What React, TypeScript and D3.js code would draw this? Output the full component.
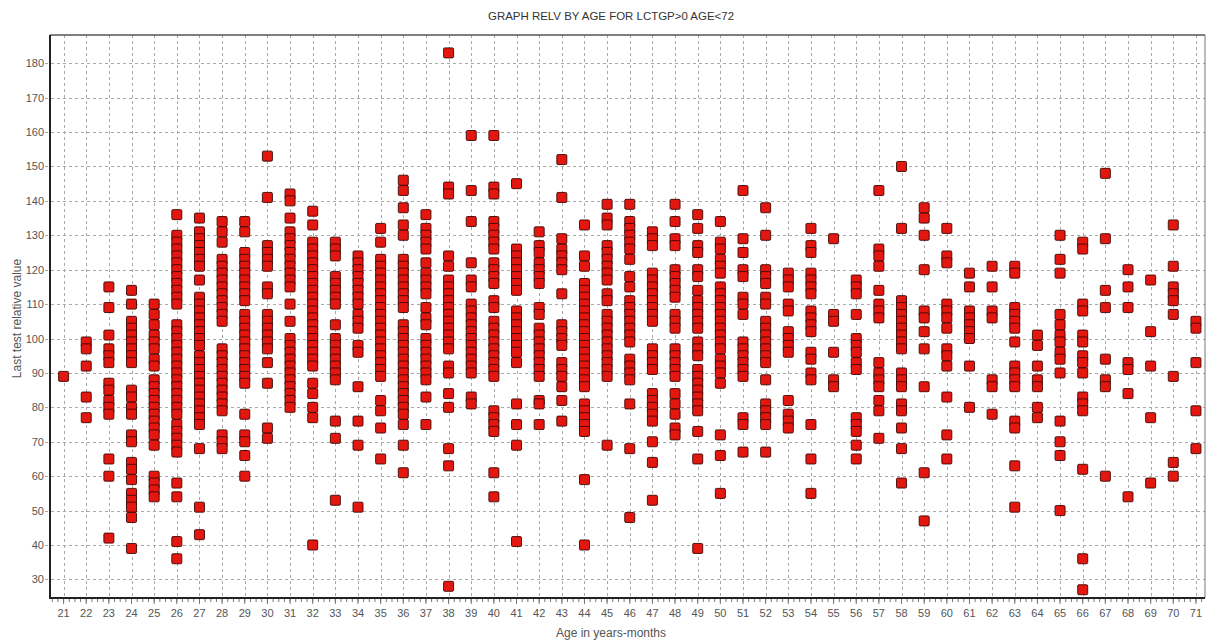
import React from 'react';
import * as d3 from 'd3';

const W = 1220;
const H = 642;

const title = 'GRAPH RELV BY AGE FOR LCTGP>0 AGE<72';
const xLabel = 'Age in years-months';
const yLabel = 'Last test relative value';
const ageTicks = d3.range(21, 72);
const valueTicks = d3.range(30, 190, 10);

const relv21 = [89];
const relv22 = [99, 97, 92, 83, 77];
const relv23 = [115, 109, 101, 97, 95, 93, 87, 85, 82, 80, 78, 65, 60, 42];
const relv24 = [114, 110, 105, 103, 101, 99, 97, 95, 93, 85, 83, 80, 78, 72, 70, 64, 62, 59, 55, 53, 51, 48, 39];
const relv25 = [110, 107, 104, 101, 99, 97, 94, 92, 88, 86, 84, 82, 80, 78, 76, 74, 72, 69, 60, 58, 56, 54];
const relv26 = [136, 130, 128, 126, 124, 122, 120, 118, 116, 114, 112, 110, 104, 102, 100, 98, 96, 94, 92, 90, 88, 86, 84, 82, 80, 78, 75, 73, 71, 69, 67, 58, 54, 41, 36];
const relv27 = [135, 131, 129, 127, 125, 123, 121, 117, 112, 110, 108, 106, 104, 102, 100, 98, 95, 93, 91, 89, 87, 85, 83, 81, 79, 77, 75, 68, 51, 43];
const relv28 = [134, 131, 128, 123, 121, 119, 117, 115, 113, 111, 109, 107, 105, 97, 95, 93, 91, 89, 87, 85, 83, 81, 79, 72, 70, 68];
const relv29 = [134, 131, 125, 123, 121, 119, 117, 115, 113, 111, 107, 105, 103, 101, 99, 97, 95, 93, 91, 89, 87, 78, 72, 70, 66, 60];
const relv30 = [153, 141, 127, 125, 123, 121, 115, 113, 107, 105, 103, 101, 99, 97, 93, 87, 74, 71];
const relv31 = [142, 140, 135, 131, 129, 127, 125, 123, 121, 119, 117, 115, 110, 105, 100, 98, 96, 94, 92, 90, 88, 86, 84, 82, 80];
const relv32 = [137, 133, 128, 126, 124, 122, 120, 118, 116, 114, 112, 110, 108, 106, 104, 102, 100, 98, 96, 94, 92, 87, 84, 80, 77, 40];
const relv33 = [128, 126, 124, 118, 116, 114, 112, 110, 104, 100, 98, 96, 94, 92, 90, 88, 76, 71, 53];
const relv34 = [124, 122, 120, 118, 116, 114, 112, 110, 107, 105, 103, 98, 96, 86, 76, 69, 51];
const relv35 = [132, 128, 123, 121, 119, 117, 115, 113, 111, 109, 107, 105, 103, 101, 99, 97, 95, 93, 91, 89, 82, 79, 74, 65];
const relv36 = [146, 143, 138, 133, 130, 123, 121, 119, 117, 115, 113, 111, 109, 104, 102, 100, 98, 96, 94, 92, 90, 88, 86, 84, 82, 80, 78, 75, 69, 61];
const relv37 = [136, 132, 130, 128, 126, 122, 119, 117, 115, 113, 109, 106, 104, 100, 98, 96, 94, 92, 90, 88, 83, 75];
const relv38 = [183, 144, 142, 124, 121, 117, 115, 113, 111, 109, 107, 105, 103, 101, 99, 97, 92, 90, 84, 80, 68, 63, 28];
const relv39 = [159, 143, 134, 122, 117, 115, 110, 108, 106, 104, 102, 100, 98, 96, 94, 92, 90, 83, 81];
const relv40 = [159, 144, 142, 134, 132, 130, 128, 126, 122, 120, 118, 116, 111, 109, 105, 103, 101, 99, 97, 95, 93, 91, 89, 79, 77, 75, 73, 61, 54];
const relv41 = [145, 126, 124, 122, 120, 118, 116, 114, 108, 106, 104, 102, 100, 98, 96, 93, 81, 75, 69, 41];
const relv42 = [131, 127, 125, 122, 120, 118, 116, 109, 107, 103, 101, 99, 97, 95, 93, 91, 89, 82, 81, 75];
const relv43 = [152, 141, 129, 126, 124, 122, 120, 113, 104, 102, 100, 98, 93, 91, 89, 86, 82, 76];
const relv44 = [133, 124, 121, 116, 114, 112, 110, 108, 106, 104, 102, 100, 98, 96, 94, 92, 90, 88, 86, 81, 79, 77, 75, 73, 59, 40];
const relv45 = [139, 135, 133, 127, 125, 123, 121, 119, 117, 113, 111, 107, 105, 103, 101, 99, 97, 95, 93, 91, 89, 69];
const relv46 = [139, 134, 132, 130, 128, 126, 123, 118, 115, 111, 109, 107, 105, 103, 101, 99, 94, 92, 90, 88, 81, 68, 48];
const relv47 = [131, 129, 127, 119, 117, 115, 113, 111, 109, 107, 105, 97, 95, 93, 91, 84, 82, 80, 78, 76, 70, 64, 53];
const relv48 = [139, 134, 129, 127, 120, 118, 116, 114, 112, 107, 105, 103, 97, 95, 93, 91, 89, 84, 81, 78, 74, 72];
const relv49 = [136, 132, 127, 125, 120, 118, 114, 111, 109, 107, 105, 103, 99, 97, 95, 91, 89, 87, 85, 83, 81, 79, 73, 65, 39];
const relv50 = [134, 128, 126, 123, 121, 119, 115, 113, 111, 109, 107, 105, 103, 101, 99, 97, 94, 92, 90, 87, 72, 66, 55];
const relv51 = [143, 129, 125, 120, 118, 112, 110, 107, 99, 97, 95, 93, 91, 89, 77, 75, 67];
const relv52 = [138, 130, 120, 118, 116, 112, 110, 105, 103, 101, 99, 97, 95, 93, 88, 81, 79, 77, 75, 67];
const relv53 = [119, 117, 115, 110, 108, 102, 100, 98, 96, 82, 78, 76, 74];
const relv54 = [132, 127, 125, 119, 117, 115, 113, 108, 106, 104, 102, 96, 94, 90, 88, 75, 65, 55];
const relv55 = [129, 107, 105, 96, 88, 86];
const relv56 = [117, 115, 113, 107, 100, 98, 96, 93, 91, 77, 75, 73, 69, 65];
const relv57 = [143, 126, 124, 121, 114, 110, 108, 106, 93, 90, 88, 86, 82, 79, 71];
const relv58 = [150, 132, 111, 109, 107, 105, 103, 101, 99, 97, 90, 88, 86, 81, 79, 74, 68, 58];
const relv59 = [138, 135, 130, 120, 108, 106, 102, 97, 86, 61, 47];
const relv60 = [132, 124, 122, 110, 108, 106, 103, 97, 95, 92, 83, 72, 65];
const relv61 = [119, 115, 108, 106, 104, 102, 100, 92, 80];
const relv62 = [121, 115, 108, 106, 88, 86, 78];
const relv63 = [121, 119, 109, 107, 105, 103, 99, 92, 90, 88, 86, 76, 74, 63, 51];
const relv64 = [101, 98, 92, 88, 86, 80, 77];
const relv65 = [130, 123, 119, 107, 104, 101, 99, 96, 94, 90, 76, 70, 66, 50];
const relv66 = [128, 126, 110, 108, 101, 99, 95, 93, 90, 83, 81, 79, 62, 36, 27];
const relv67 = [148, 129, 114, 109, 94, 88, 86, 60];
const relv68 = [120, 115, 109, 93, 91, 84, 54];
const relv69 = [117, 102, 92, 77, 58];
const relv70 = [133, 121, 115, 113, 111, 107, 89, 64, 60];
const relv71 = [105, 103, 93, 79, 68];

const columns: [number, number[]][] = [
  [21, relv21], [22, relv22], [23, relv23], [24, relv24], [25, relv25], [26, relv26],
  [27, relv27], [28, relv28], [29, relv29], [30, relv30], [31, relv31], [32, relv32],
  [33, relv33], [34, relv34], [35, relv35], [36, relv36], [37, relv37], [38, relv38],
  [39, relv39], [40, relv40], [41, relv41], [42, relv42], [43, relv43], [44, relv44],
  [45, relv45], [46, relv46], [47, relv47], [48, relv48], [49, relv49], [50, relv50],
  [51, relv51], [52, relv52], [53, relv53], [54, relv54], [55, relv55], [56, relv56],
  [57, relv57], [58, relv58], [59, relv59], [60, relv60], [61, relv61], [62, relv62],
  [63, relv63], [64, relv64], [65, relv65], [66, relv66], [67, relv67], [68, relv68],
  [69, relv69], [70, relv70], [71, relv71],
];

const LEFT = 50;
const RIGHT = 1205;
const TOP = 35;
const BOTTOM = 598;
const FONT = '"Liberation Sans", Arial, sans-serif';

export default function App() {
  const x = d3.scaleLinear().domain([20.4, 71.4]).range([LEFT, RIGHT]);
  const y = d3.scaleLinear().domain([24.6, 188.2]).range([BOTTOM, TOP]);
  const points = columns.flatMap(([age, vals]) =>
    [...vals].sort((a, b) => b - a).map((v) => ({ age, v }))
  );
  const minorTicks = d3.range(20.5, 71.4, 0.25);
  const S = 10;

  return (
    <svg
      width={W}
      height={H}
      viewBox={`0 0 ${W} ${H}`}
      style={{ position: 'absolute', left: 0, top: 0, background: '#fff', display: 'block' }}
    >
      <defs>
        <clipPath id="plotClip">
          <rect x={LEFT} y={TOP} width={RIGHT - LEFT} height={BOTTOM - TOP} />
        </clipPath>
      </defs>
      <rect x={0} y={0} width={W} height={H} fill="#fff" />

      <text
        x={611}
        y={20}
        textAnchor="middle"
        fontFamily={FONT}
        fontSize={10.5}
        fill="#333"
        textLength={246}
        lengthAdjust="spacingAndGlyphs"
      >
        {title}
      </text>

      {/* grid */}
      <g stroke="#a8a8a8" strokeWidth={1} strokeDasharray="3,3">
        {ageTicks.map((a) => (
          <line key={`gx${a}`} x1={Math.round(x(a)) + 0.5} x2={Math.round(x(a)) + 0.5} y1={TOP} y2={BOTTOM} />
        ))}
        {valueTicks.map((v) => (
          <line key={`gy${v}`} x1={LEFT - 5} x2={RIGHT} y1={Math.round(y(v)) + 0.5} y2={Math.round(y(v)) + 0.5} />
        ))}
      </g>

      {/* points */}
      <g clipPath="url(#plotClip)">
        {points.map((p, i) => (
          <rect
            key={i}
            x={x(p.age) - S / 2}
            y={y(p.v) - S / 2}
            width={S}
            height={S}
            rx={1.2}
            fill="#e3170f"
            stroke="#3b0805"
            strokeWidth={0.9}
          />
        ))}
      </g>

      {/* frame */}
      <line x1={LEFT} x2={RIGHT} y1={TOP} y2={TOP} stroke="#555" strokeWidth={1.5} />
      <line x1={RIGHT} x2={RIGHT} y1={TOP} y2={BOTTOM} stroke="#777" strokeWidth={1} />
      <line x1={LEFT} x2={LEFT} y1={TOP} y2={BOTTOM + 1} stroke="#222" strokeWidth={2} />
      <line x1={LEFT - 1} x2={RIGHT} y1={BOTTOM} y2={BOTTOM} stroke="#222" strokeWidth={2} />

      {/* x axis ticks */}
      <g stroke="#777" strokeWidth={1}>
        {minorTicks.map((t, i) => (
          <line key={`mt${i}`} x1={x(t)} x2={x(t)} y1={BOTTOM + 1} y2={BOTTOM + 4} />
        ))}
        {ageTicks.map((a) => (
          <line key={`xt${a}`} x1={x(a)} x2={x(a)} y1={BOTTOM + 1} y2={BOTTOM + 6} />
        ))}
      </g>
      <g fontFamily={FONT} fontSize={11} fill="#555" textAnchor="middle">
        {ageTicks.map((a) => (
          <text key={`xl${a}`} x={x(a)} y={BOTTOM + 19}>
            {a}
          </text>
        ))}
      </g>

      {/* y axis labels */}
      <g fontFamily={FONT} fontSize={11} fill="#555" textAnchor="end">
        {valueTicks.map((v) => (
          <text key={`yl${v}`} x={LEFT - 6} y={y(v) + 4}>
            {v}
          </text>
        ))}
      </g>

      <text x={611} y={637} textAnchor="middle" fontFamily={FONT} fontSize={12} fill="#555">
        {xLabel}
      </text>
      <text
        transform={`translate(21, ${(TOP + BOTTOM) / 2 + 2}) rotate(-90)`}
        textAnchor="middle"
        fontFamily={FONT}
        fontSize={12}
        fill="#555"
      >
        {yLabel}
      </text>
    </svg>
  );
}
